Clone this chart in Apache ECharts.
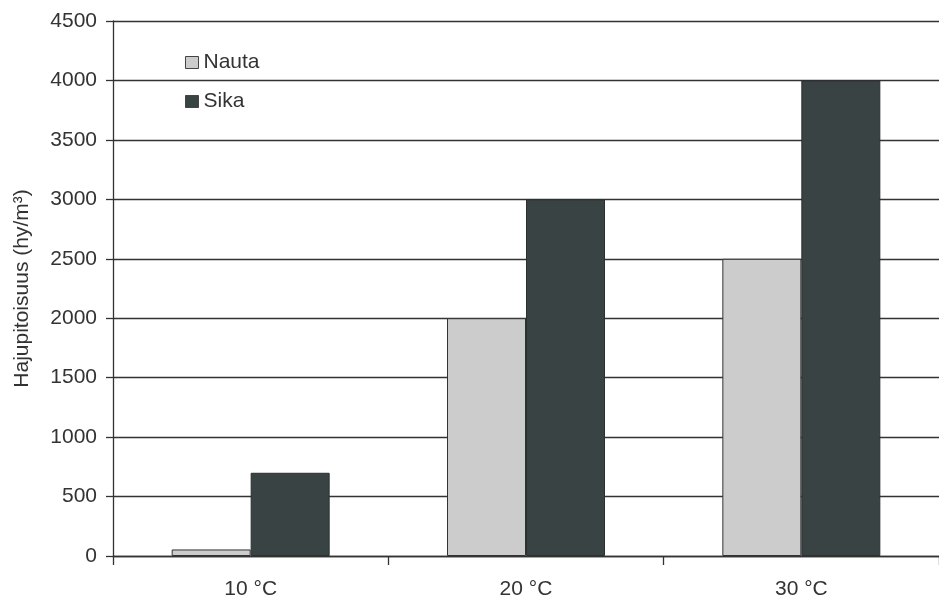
<!DOCTYPE html>
<html><head><meta charset="utf-8">
<script src="https://cdn.jsdelivr.net/npm/echarts@6/dist/echarts.min.js"></script>
<style>html,body{margin:0;padding:0;background:#fff}#c{width:939px;height:602px}</style>
</head><body><div id="c"></div>
<script>
const categories = ['10 °C', '20 °C', '30 °C'];
const nauta = [55, 2000, 2500];
const sika = [700, 3000, 4000];
const yTicks = {min: 0, max: 4500, interval: 500};

const chart = echarts.init(document.getElementById('c'), null, {renderer: 'canvas'});
const font = 'Liberation Sans, Arial, sans-serif';
chart.setOption({
  animation: false,
  backgroundColor: '#fff',
  textStyle: {fontFamily: font},
  legend: {
    left: 180, top: 47, orient: 'vertical', itemGap: 18,
    itemWidth: 13, itemHeight: 12, icon: 'rect',
    itemStyle: {borderColor: '#444', borderWidth: 1},
    textStyle: {fontSize: 21, color: '#333', fontFamily: font},
    data: ['Nauta', 'Sika']
  },
  grid: {left: 113, top: 21, width: 834, height: 535, containLabel: false},
  xAxis: {
    type: 'category', data: categories, boundaryGap: true,
    axisLine: {lineStyle: {color: '#333', width: 1.3}},
    axisTick: {show: true, length: 9, lineStyle: {color: '#333', width: 1.3}},
    axisLabel: {fontSize: 21, color: '#333', margin: 23, fontFamily: font}
  },
  yAxis: {
    type: 'value', min: yTicks.min, max: yTicks.max, interval: yTicks.interval,
    name: 'Hajupitoisuus (hy/m³)', nameLocation: 'middle', nameGap: 80,
    nameTextStyle: {fontSize: 21, color: '#333', fontFamily: font},
    axisLine: {show: true, lineStyle: {color: '#333', width: 1.3}},
    axisTick: {show: true, length: 7, lineStyle: {color: '#333', width: 1.3}},
    axisLabel: {fontSize: 21, color: '#333', margin: 16, fontFamily: font,
      formatter: v => String(v)},
    splitLine: {show: true, lineStyle: {color: '#333', width: 1.3}}
  },
  series: [
    {name: 'Nauta', type: 'bar', data: nauta, barWidth: 79, barGap: '0%',
     itemStyle: {color: '#cccccc', borderColor: '#333', borderWidth: 1}},
    {name: 'Sika', type: 'bar', data: sika, barWidth: 79, barGap: '0%',
     itemStyle: {color: '#3a4343', borderColor: '#2a2f2f', borderWidth: 1}}
  ]
});
</script></body></html>
